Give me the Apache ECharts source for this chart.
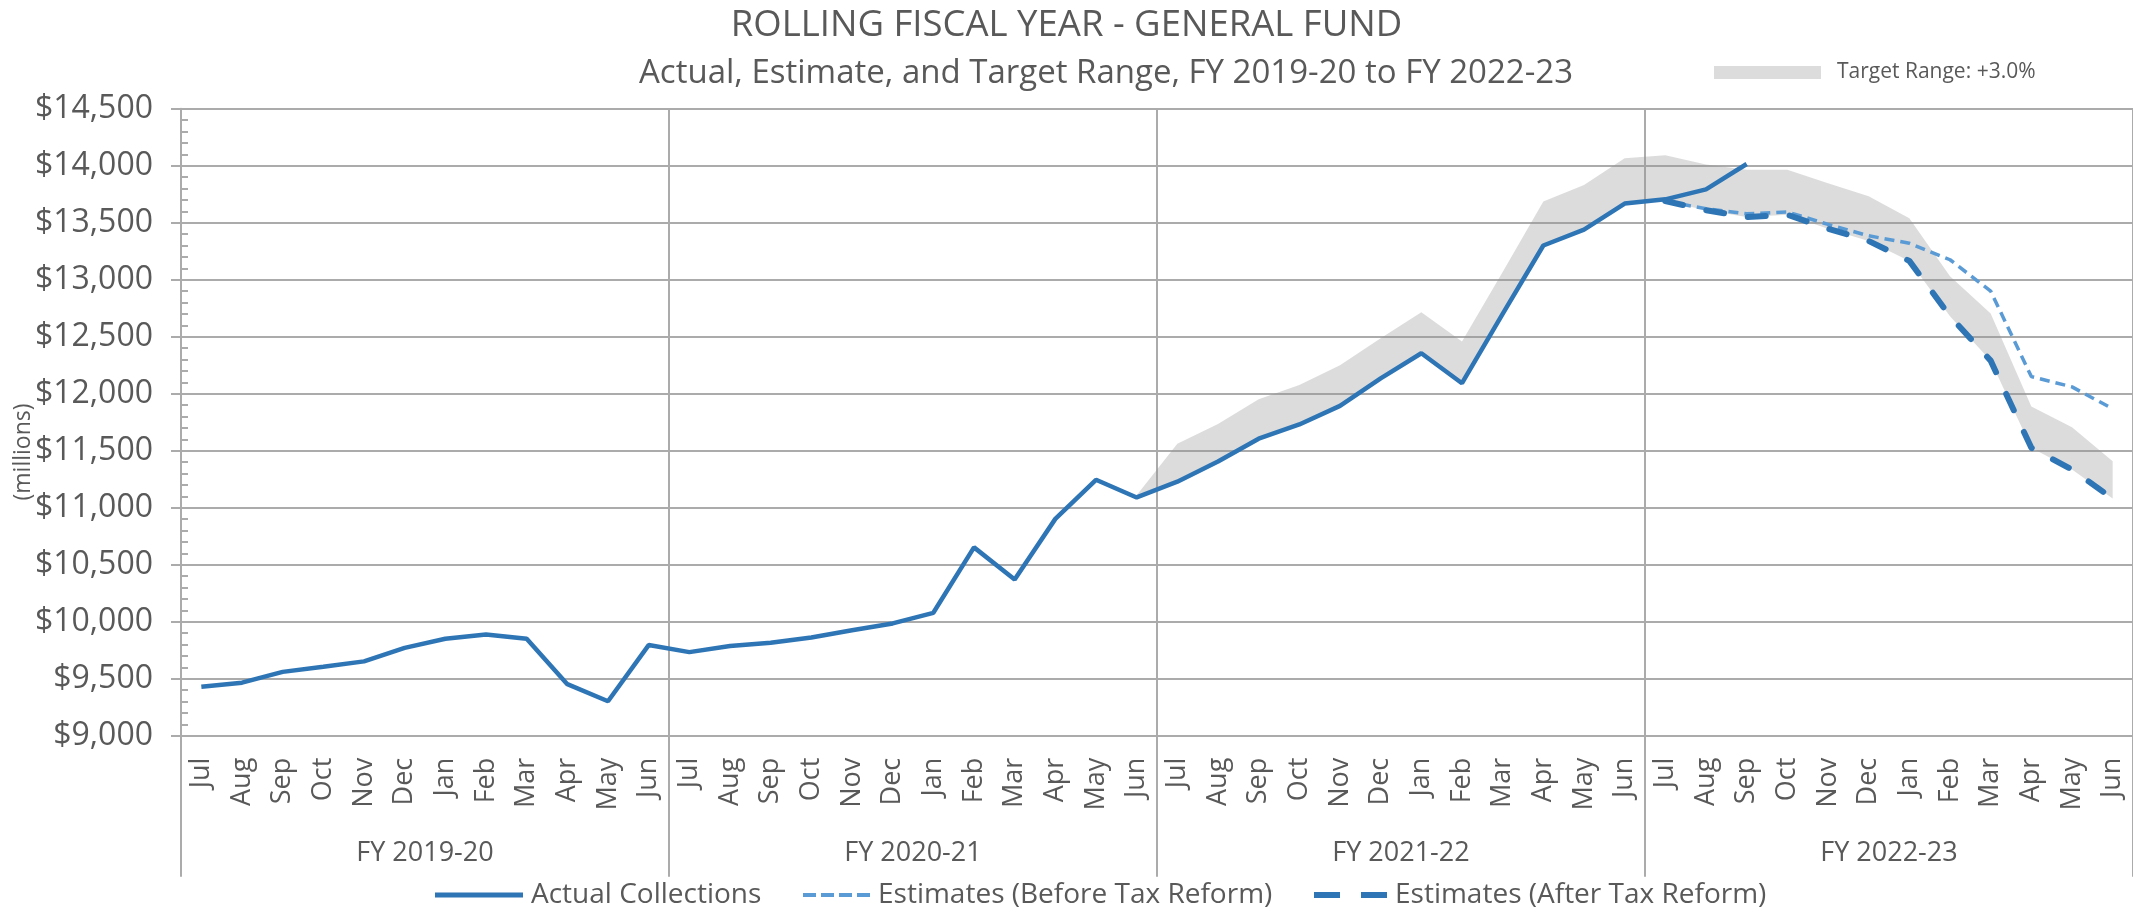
<!DOCTYPE html>
<html>
<head>
<meta charset="utf-8">
<script src="https://cdn.jsdelivr.net/npm/echarts@6/dist/echarts.min.js"></script>
<style>
  html, body { margin: 0; padding: 0; background: #ffffff; }
  #chart { width: 2133px; height: 914px; }
</style>
</head>
<body>
<div id="chart"></div>
<script>
// ---------- data ----------
const categories = [
  'Jul','Aug','Sep','Oct','Nov','Dec','Jan','Feb','Mar','Apr','May','Jun',
  'Jul','Aug','Sep','Oct','Nov','Dec','Jan','Feb','Mar','Apr','May','Jun',
  'Jul','Aug','Sep','Oct','Nov','Dec','Jan','Feb','Mar','Apr','May','Jun',
  'Jul','Aug','Sep','Oct','Nov','Dec','Jan','Feb','Mar','Apr','May','Jun'
];
const fiscalYears = ['FY 2019-20', 'FY 2020-21', 'FY 2021-22', 'FY 2022-23'];

const actualCollections = [
  9430, 9465, 9560, 9605, 9652, 9770, 9850, 9887, 9850, 9452, 9302, 9795,
  9733, 9786, 9815, 9862, 9925, 9985, 10078, 10652, 10370, 10902, 11245, 11090,
  11228, 11405, 11605, 11730, 11893, 12135, 12355, 12092, 12700, 13300, 13440, 13668,
  13705, 13792, 14015, null, null, null, null, null, null, null, null, null
];
const estimatesBefore = [
  null, null, null, null, null, null, null, null, null, null, null, null,
  null, null, null, null, null, null, null, null, null, null, null, null,
  null, null, null, null, null, null, null, null, null, null, null, null,
  13690, 13622, 13578, 13595, 13485, 13385, 13320, 13175, 12900, 12150, 12060, 11868
];
const estimatesAfter = [
  null, null, null, null, null, null, null, null, null, null, null, null,
  null, null, null, null, null, null, null, null, null, null, null, null,
  null, null, null, null, null, null, null, null, null, null, null, null,
  13690, 13610, 13550, 13570, 13448, 13340, 13165, 12680, 12290, 11525, 11335, 11080
];
const targetLow = [
  null, null, null, null, null, null, null, null, null, null, null, null,
  null, null, null, null, null, null, null, null, null, null, null, 11090,
  11228, 11405, 11605, 11730, 11893, 12135, 12355, 12092, 12700, 13300, 13440, 13668,
  13690, 13610, 13550, 13570, 13448, 13340, 13165, 12680, 12290, 11525, 11335, 11080
];
const targetHigh = [
  null, null, null, null, null, null, null, null, null, null, null, null,
  null, null, null, null, null, null, null, null, null, null, null, 11110,
  11560, 11734, 11952, 12076, 12250, 12486, 12715, 12457, 13068, 13686, 13831, 14065,
  14091, 14011, 13964, 13964, 13847, 13731, 13539, 13031, 12704, 11887, 11705, 11407
];
const yMin = 9000, yMax = 14500, yStep = 500;

// ---------- styles ----------
const FONT = 'Open Sans';
const TXT = '#595959';
const GRID = '#ABABAB';
const BLUE = '#2E75B6';
const LIGHT = '#5B9BD5';

const targetWidth = targetHigh.map((h, i) => (h == null || targetLow[i] == null) ? null : h - targetLow[i]);

const chart = echarts.init(document.getElementById('chart'), null, { renderer: 'canvas' });

function bottomLegend(name, left, w, h, path, color) {
  return {
    data: [{ name: name, icon: path, itemStyle: { color: color } }],
    left: left, top: 876,
    itemWidth: w, itemHeight: h,
    symbolKeepAspect: false,
    textStyle: { fontFamily: FONT, fontSize: 28, color: TXT, padding: [0, 0, 0, 3] },
    selectedMode: false
  };
}

const option = {
  animation: false,
  backgroundColor: '#ffffff',
  textStyle: { fontFamily: FONT, color: TXT },
  title: [
    {
      text: 'ROLLING FISCAL YEAR - GENERAL FUND',
      left: 'center', top: 2,
      textStyle: { fontFamily: FONT, fontSize: 36.5, fontWeight: 'normal', color: TXT }
    },
    {
      text: 'Actual, Estimate, and Target Range, FY 2019-20 to FY 2022-23',
      left: 634, top: 52,
      textStyle: { fontFamily: FONT, fontSize: 33, fontWeight: 'normal', color: TXT }
    }
  ],
  legend: [
    bottomLegend('Actual Collections', 430, 88, 5, 'path://M0,0H88V5H0Z', BLUE),
    bottomLegend('Estimates (Before Tax Reform)', 798, 67, 4,
      'path://M0,0H13V4H0Z M18,0H31V4H18Z M36,0H49V4H36Z M54,0H67V4H54Z', LIGHT),
    bottomLegend('Estimates (After Tax Reform)', 1309, 73, 6,
      'path://M0,0H26V6H0Z M47,0H73V6H47Z', BLUE),
    {
      data: [{ name: 'Target Range: +3.0%', icon: 'rect', itemStyle: { color: '#DCDCDC' } }],
      left: 1709, top: 57,
      itemWidth: 107, itemHeight: 13,
      textStyle: { fontFamily: FONT, fontSize: 21, color: TXT, padding: [0, 0, 0, 11] },
      selectedMode: false
    }
  ],
  graphic: [
    {
      type: 'text', x: 23, y: 452, rotation: Math.PI / 2,
      style: { text: '(millions)', fontFamily: FONT, fontSize: 23, fill: TXT, align: 'center', verticalAlign: 'middle' }
    }
  ],
  grid: { left: 181, right: 0, top: 108.7, bottom: 178.3, outerBoundsMode: 'none', containLabel: false },
  xAxis: [
    {
      type: 'category', data: categories, position: 'bottom', boundaryGap: true,
      axisLine: { show: true, lineStyle: { color: GRID, width: 2 } },
      axisTick: { show: false },
      axisLabel: { interval: 0, rotate: 90, margin: 22, fontFamily: FONT, fontSize: 27, color: TXT },
      splitLine: { show: false }
    },
    {
      type: 'category', data: fiscalYears, position: 'bottom', boundaryGap: true,
      axisLine: { show: false },
      axisTick: { show: true, interval: 0, length: 141, lineStyle: { color: GRID, width: 2 } },
      axisLabel: { interval: 0, margin: 104, fontFamily: FONT, fontSize: 27, color: TXT },
      splitLine: { show: true, interval: 0, lineStyle: { color: GRID, width: 2 } }
    }
  ],
  yAxis: [
    {
      type: 'value', min: yMin, max: yMax, interval: yStep, position: 'left',
      axisLine: { show: true, lineStyle: { color: GRID, width: 2 } },
      axisTick: { show: true, length: 10, lineStyle: { color: GRID, width: 2 } },
      axisLabel: {
        margin: 28, fontFamily: FONT, fontSize: 32, color: TXT,
        formatter: v => '$' + v.toLocaleString('en-US')
      },
      splitLine: { show: true, lineStyle: { color: GRID, width: 2 } }
    },
    {
      type: 'value', min: yMin, max: yMax, interval: yStep, position: 'left',
      axisLine: { show: false },
      axisTick: { show: false, inside: true },
      minorTick: { show: true, splitNumber: 5, length: 7, lineStyle: { color: GRID, width: 2 } },
      axisLabel: { show: false },
      splitLine: { show: false }
    }
  ],
  series: [
    {
      name: 'targetBase', type: 'line', stack: 'band', data: targetLow,
      symbol: 'none', lineStyle: { opacity: 0, width: 0 }, silent: true, z: 1
    },
    {
      name: 'Target Range: +3.0%', type: 'line', stack: 'band', data: targetWidth,
      symbol: 'none', color: '#DCDCDC',
      lineStyle: { opacity: 0, width: 0 },
      areaStyle: { color: 'rgba(150,150,150,0.33)', opacity: 1 },
      silent: true, z: 1
    },
    {
      name: 'Estimates (Before Tax Reform)', type: 'line', data: estimatesBefore,
      symbol: 'none', color: LIGHT,
      lineStyle: { color: LIGHT, width: 3.5, type: [10, 6] }, z: 3
    },
    {
      name: 'Estimates (After Tax Reform)', type: 'line', data: estimatesAfter,
      symbol: 'none', color: BLUE,
      lineStyle: { color: BLUE, width: 6, type: [18, 24], cap: 'round' }, z: 4
    },
    {
      name: 'Actual Collections', type: 'line', data: actualCollections,
      symbol: 'none', color: BLUE,
      lineStyle: { color: BLUE, width: 4.5 }, z: 5
    }
  ]
};
chart.setOption(option);
</script>
</body>
</html>
